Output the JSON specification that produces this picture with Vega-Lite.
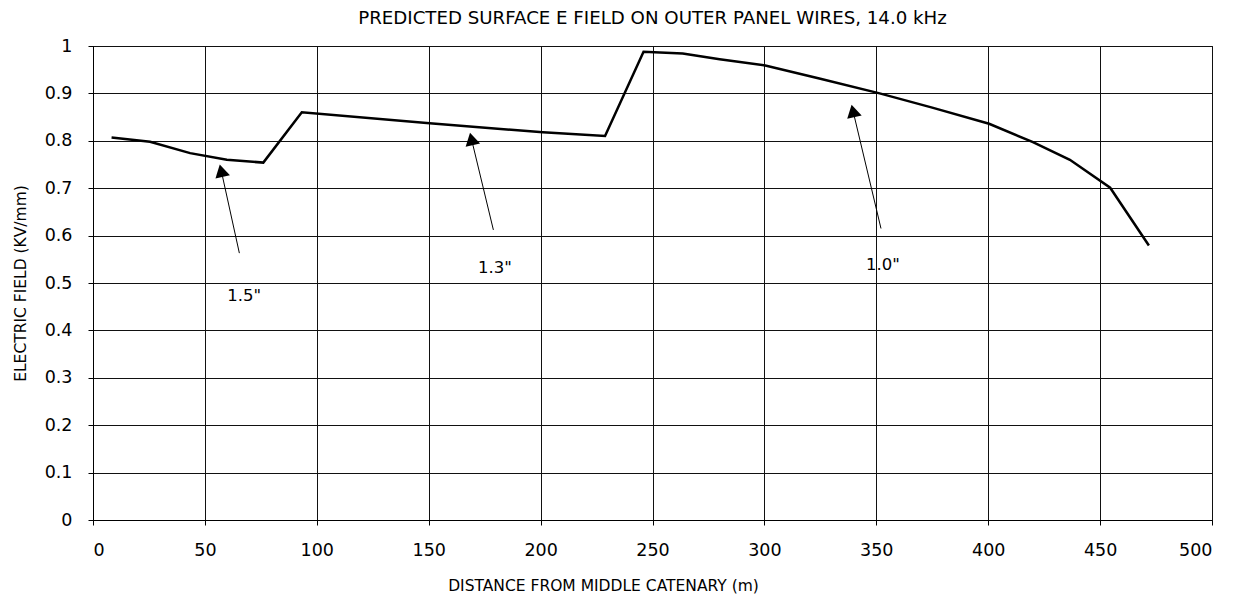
{
  "$schema": "https://vega.github.io/schema/vega-lite/v6.json",
  "width": 1119,
  "height": 474,
  "autosize": "none",
  "padding": {"left": 93, "top": 46, "right": 24, "bottom": 79},
  "background": "white",
  "title": {
    "text": "PREDICTED SURFACE E FIELD ON OUTER PANEL WIRES, 14.0 kHz",
    "font": "DejaVu Sans",
    "fontSize": 18.2,
    "fontWeight": "normal",
    "color": "black",
    "anchor": "middle",
    "offset": 9
  },
  "config": {
    "view": {"stroke": "black", "strokeWidth": 1},
    "axis": {
      "labelFont": "DejaVu Sans",
      "titleFont": "DejaVu Sans",
      "labelColor": "black",
      "titleColor": "black",
      "titleFontWeight": "normal",
      "domainColor": "black",
      "tickColor": "black",
      "gridColor": "#111111",
      "gridOpacity": 1,
      "gridWidth": 1,
      "tickSize": 5
    }
  },
  "datasets": {
    "curve": [
      {"distance": 8.3, "field": 0.807},
      {"distance": 25.5, "field": 0.798},
      {"distance": 43.4, "field": 0.774},
      {"distance": 59.8, "field": 0.760},
      {"distance": 76.1, "field": 0.754},
      {"distance": 93.3, "field": 0.860},
      {"distance": 150.4, "field": 0.837},
      {"distance": 201, "field": 0.818},
      {"distance": 228.8, "field": 0.810},
      {"distance": 246, "field": 0.988},
      {"distance": 263.5, "field": 0.984},
      {"distance": 280, "field": 0.972},
      {"distance": 300.4, "field": 0.959},
      {"distance": 325, "field": 0.931},
      {"distance": 351.5, "field": 0.900},
      {"distance": 375, "field": 0.870},
      {"distance": 400.4, "field": 0.836},
      {"distance": 420, "field": 0.797},
      {"distance": 436.5, "field": 0.760},
      {"distance": 454.5, "field": 0.701},
      {"distance": 471.8, "field": 0.579}
    ],
    "arrows": [
      {"x": 65.4, "y": 0.563, "x2": 57.3, "y2": 0.737},
      {"x": 178.9, "y": 0.612, "x2": 169.1, "y2": 0.804},
      {"x": 352.1, "y": 0.615, "x2": 339.6, "y2": 0.863}
    ],
    "labels": [
      {"x": 67.6, "y": 0.473, "label": "1.5\""},
      {"x": 179.6, "y": 0.532, "label": "1.3\""},
      {"x": 353.0, "y": 0.538, "label": "1.0\""}
    ]
  },
  "layer": [
    {
      "data": {"name": "curve"},
      "mark": {"type": "line", "color": "black", "strokeWidth": 2.5, "clip": true},
      "encoding": {
        "x": {
          "field": "distance",
          "type": "quantitative",
          "scale": {"domain": [0, 500], "nice": false},
          "axis": {
            "title": "DISTANCE FROM MIDDLE CATENARY (m)",
            "values": [0, 50, 100, 150, 200, 250, 300, 350, 400, 450, 500],
            "labelFontSize": 17.5,
            "labelPadding": 16,
            "titleFontSize": 15.5,
            "titlePadding": 20,
            "titleX": 510,
            "grid": true
          }
        },
        "y": {
          "field": "field",
          "type": "quantitative",
          "scale": {"domain": [0, 1], "nice": false},
          "axis": {
            "title": "ELECTRIC FIELD (KV/mm)",
            "values": [0, 0.1, 0.2, 0.3, 0.4, 0.5, 0.6, 0.7, 0.8, 0.9, 1],
            "format": ".1~f",
            "labelFontSize": 17.5,
            "labelPadding": 16,
            "titleFontSize": 15.5,
            "titlePadding": 16,
            "grid": true
          }
        }
      }
    },
    {
      "data": {"name": "arrows"},
      "mark": {"type": "rule", "color": "black", "strokeWidth": 1},
      "encoding": {
        "x": {"field": "x", "type": "quantitative"},
        "y": {"field": "y", "type": "quantitative"},
        "x2": {"field": "x2"},
        "y2": {"field": "y2"}
      }
    },
    {
      "data": {"name": "arrows"},
      "mark": {"type": "point", "shape": "triangle-up", "filled": true, "color": "black", "opacity": 1, "size": 220, "angle": 347},
      "encoding": {
        "x": {"field": "x2", "type": "quantitative"},
        "y": {"field": "y2", "type": "quantitative"}
      }
    },
    {
      "data": {"name": "labels"},
      "mark": {"type": "text", "font": "DejaVu Sans", "fontSize": 16.5, "color": "black", "align": "center", "baseline": "middle"},
      "encoding": {
        "x": {"field": "x", "type": "quantitative"},
        "y": {"field": "y", "type": "quantitative"},
        "text": {"field": "label"}
      }
    }
  ]
}
